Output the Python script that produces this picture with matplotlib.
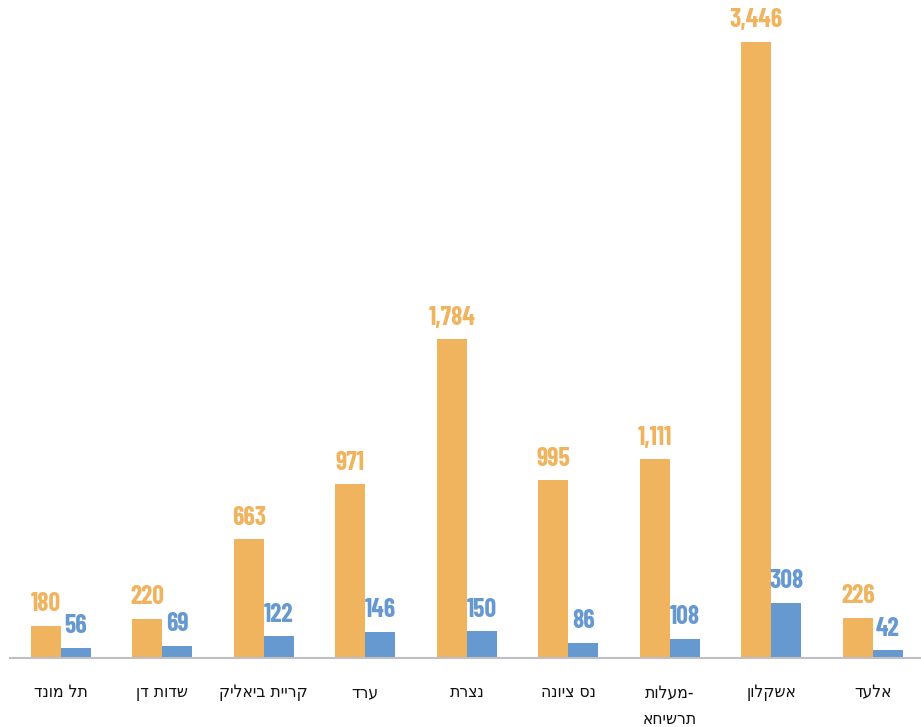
import matplotlib
matplotlib.use("Agg")
import matplotlib.pyplot as plt
from matplotlib import font_manager as fm
import numpy as np
import os

# ---- data ----
categories = ["תל מונד", "שדות דן", "קריית ביאליק", "ערד", "נצרת",
              "נס ציונה", "מעלות-\nתרשיחא", "אשקלון", "אלעד"]
orange_vals = [180, 220, 663, 971, 1784, 995, 1111, 3446, 226]
blue_vals = [56, 69, 122, 146, 150, 86, 108, 308, 42]

ORANGE = "#F0B35E"
BLUE = "#6699CF"


def find_font(candidates, **fallback):
    files = fm.findSystemFonts()
    for cand in candidates:
        for f in files:
            if os.path.basename(f).lower() == cand.lower():
                return fm.FontProperties(fname=f)
    return fm.FontProperties(**fallback)


num_font = find_font(["BarlowCondensed-Bold.ttf", "BarlowSemiCondensed-Bold.ttf",
                      "DejaVuSansCondensed-Bold.ttf"], family="DejaVu Sans", weight="bold")
heb_font = find_font(["DejaVuSansCondensed.ttf", "DejaVuSans.ttf"], family="DejaVu Sans")


def visual(s):
    # matplotlib has no bidi: put RTL Hebrew in visual order; a trailing hyphen stays on the right
    lines = []
    for line in s.split("\n"):
        trail = ""
        if line.endswith("-"):
            trail = "-"
            line = line[:-1]
        lines.append(line[::-1] + trail)
    return "\n".join(lines)


fig = plt.figure(figsize=(9.21, 7.27), dpi=100)
ax = fig.add_axes([10 / 921, 69 / 727, 913.5 / 921, 658 / 727])

x = np.arange(len(categories))
w = 0.296
ax.bar(x - w / 2, orange_vals, w, color=ORANGE, zorder=2)
ax.bar(x + w / 2, blue_vals, w, color=BLUE, zorder=2)

ax.set_xlim(-0.5, len(categories) - 0.5)
ax.set_ylim(0, 3681)

for xi, v in zip(x, orange_vals):
    ax.annotate(f"{v:,}", (xi - w / 2, v), xytext=(0, 10.5), textcoords="offset points",
                ha="center", va="baseline", color=ORANGE, fontproperties=num_font, fontsize=18.5)
for xi, v in zip(x, blue_vals):
    ax.annotate(f"{v:,}", (xi + w / 2, v), xytext=(0, 10.5), textcoords="offset points",
                ha="center", va="baseline", color=BLUE, fontproperties=num_font, fontsize=18.5)

for xi, c in zip(x, categories):
    off = -34.5 if "\n" in c else -24.5
    ax.annotate(visual(c), (xi, 0), xytext=(0, off), textcoords="offset points",
                ha="center", va="center", color="#111111", fontproperties=heb_font,
                fontsize=12.5, linespacing=1.55, annotation_clip=False)

for s in ["top", "left", "right"]:
    ax.spines[s].set_visible(False)
ax.spines["bottom"].set_color("#BFBFC4")
ax.spines["bottom"].set_linewidth(1.5)
ax.set_xticks([])
ax.set_yticks([])

fig.savefig("out.png", dpi=100)
